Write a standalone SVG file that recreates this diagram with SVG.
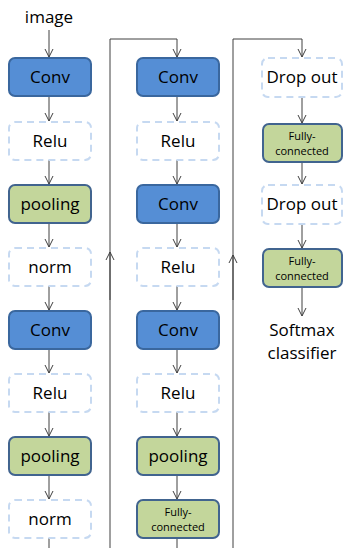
<svg xmlns="http://www.w3.org/2000/svg" width="345" height="548" viewBox="0 0 345 548">
<defs>
<marker id="ah" markerWidth="12" markerHeight="12" viewBox="-10 -6 12 12" refX="0" refY="0" orient="auto" markerUnits="userSpaceOnUse">
<polyline points="-8,-4 0,0 -8,4" fill="none" stroke="#404040" stroke-width="1"/>
</marker>
<style>
.conv{fill:#558ED5;stroke:#3A679E;stroke-width:2}
.green{fill:#C3D69B;stroke:#41648F;stroke-width:2}
.dash{fill:#FFFFFF;stroke:#C6D9F1;stroke-width:2;stroke-dasharray:7,5}
text{font-family:"Open Sans","Liberation Sans",sans-serif;fill:#000;text-anchor:middle}
.t{font-size:17px}
.s{font-size:11px}
.l{font-size:17px}
.c line,.c polyline{stroke:#404040;stroke-width:1;fill:none}
</style>
</defs>
<rect width="345" height="548" fill="#FFFFFF"/>
<g class="c" id="connectors">
<line x1="49" y1="30" x2="49" y2="57" marker-end="url(#ah)"/>
<line x1="49" y1="97" x2="49" y2="121" marker-end="url(#ah)"/>
<line x1="49" y1="160" x2="49" y2="184" marker-end="url(#ah)"/>
<line x1="49" y1="223" x2="49" y2="247" marker-end="url(#ah)"/>
<line x1="49" y1="286" x2="49" y2="310" marker-end="url(#ah)"/>
<line x1="49" y1="349" x2="49" y2="373" marker-end="url(#ah)"/>
<line x1="49" y1="412" x2="49" y2="436" marker-end="url(#ah)"/>
<line x1="49" y1="475" x2="49" y2="499" marker-end="url(#ah)"/>
<line x1="49" y1="538" x2="49" y2="548"/>
<polyline points="110,548 110,39 177,39 177,57" marker-end="url(#ah)"/>
<line x1="110" y1="300" x2="110" y2="252" marker-end="url(#ah)"/>
<line x1="177" y1="97" x2="177" y2="121" marker-end="url(#ah)"/>
<line x1="177" y1="160" x2="177" y2="184" marker-end="url(#ah)"/>
<line x1="177" y1="223" x2="177" y2="247" marker-end="url(#ah)"/>
<line x1="177" y1="286" x2="177" y2="310" marker-end="url(#ah)"/>
<line x1="177" y1="349" x2="177" y2="373" marker-end="url(#ah)"/>
<line x1="177" y1="412" x2="177" y2="436" marker-end="url(#ah)"/>
<line x1="177" y1="475" x2="177" y2="499" marker-end="url(#ah)"/>
<line x1="177" y1="538" x2="177" y2="548"/>
<polyline points="233,548 233,39 302,39 302,57" marker-end="url(#ah)"/>
<line x1="233" y1="300" x2="233" y2="255" marker-end="url(#ah)"/>
<line x1="302" y1="97" x2="302" y2="123" marker-end="url(#ah)"/>
<line x1="302" y1="162" x2="302" y2="184" marker-end="url(#ah)"/>
<line x1="302" y1="224" x2="302" y2="248" marker-end="url(#ah)"/>
<line x1="302" y1="288" x2="302" y2="316" marker-end="url(#ah)"/>
</g>
<text id="image" class="l" x="49" y="23">image</text>
<g id="c1conv1"><rect class="conv" x="9" y="58" width="82" height="38" rx="6"/><text class="t" x="50" y="83">Conv</text></g>
<g id="c1relu1"><rect class="dash" x="9" y="122" width="82" height="38" rx="6"/><text class="t" x="50" y="147">Relu</text></g>
<g id="c1pool1"><rect class="green" x="9" y="185" width="82" height="38" rx="6"/><text class="t" x="50" y="210">pooling</text></g>
<g id="c1norm1"><rect class="dash" x="9" y="248" width="82" height="38" rx="6"/><text class="t" x="50" y="273">norm</text></g>
<g id="c1conv2"><rect class="conv" x="9" y="311" width="82" height="38" rx="6"/><text class="t" x="50" y="336">Conv</text></g>
<g id="c1relu2"><rect class="dash" x="9" y="374" width="82" height="38" rx="6"/><text class="t" x="50" y="399">Relu</text></g>
<g id="c1pool2"><rect class="green" x="9" y="437" width="82" height="38" rx="6"/><text class="t" x="50" y="462">pooling</text></g>
<g id="c1norm2"><rect class="dash" x="9" y="500" width="82" height="38" rx="6"/><text class="t" x="50" y="525">norm</text></g>
<g id="c2conv1"><rect class="conv" x="137" y="58" width="82" height="38" rx="6"/><text class="t" x="178" y="83">Conv</text></g>
<g id="c2relu1"><rect class="dash" x="137" y="122" width="82" height="38" rx="6"/><text class="t" x="178" y="147">Relu</text></g>
<g id="c2conv2"><rect class="conv" x="137" y="185" width="82" height="38" rx="6"/><text class="t" x="178" y="210">Conv</text></g>
<g id="c2relu2"><rect class="dash" x="137" y="248" width="82" height="38" rx="6"/><text class="t" x="178" y="273">Relu</text></g>
<g id="c2conv3"><rect class="conv" x="137" y="311" width="82" height="38" rx="6"/><text class="t" x="178" y="336">Conv</text></g>
<g id="c2relu3"><rect class="dash" x="137" y="374" width="82" height="38" rx="6"/><text class="t" x="178" y="399">Relu</text></g>
<g id="c2pool"><rect class="green" x="137" y="437" width="82" height="38" rx="6"/><text class="t" x="178" y="462">pooling</text></g>
<g id="c2fc"><rect class="green" x="137" y="500" width="82" height="38" rx="6"/><text class="s" x="178" y="516">Fully-</text><text class="s" x="178" y="531">connected</text></g>
<g id="c3drop1"><rect class="dash" x="262" y="58" width="80" height="39" rx="6"/><text class="t" x="302" y="83">Drop out</text></g>
<g id="c3fc1"><rect class="green" x="263" y="124" width="79" height="38" rx="6"/><text class="s" x="302" y="140">Fully-</text><text class="s" x="302" y="155">connected</text></g>
<g id="c3drop2"><rect class="dash" x="262" y="185" width="80" height="39" rx="6"/><text class="t" x="302" y="210">Drop out</text></g>
<g id="c3fc2"><rect class="green" x="263" y="249" width="79" height="38" rx="6"/><text class="s" x="302" y="265">Fully-</text><text class="s" x="302" y="280">connected</text></g>
<text id="softmax" class="l" x="302" y="336">Softmax</text>
<text class="l" x="302" y="359">classifier</text>
</svg>
